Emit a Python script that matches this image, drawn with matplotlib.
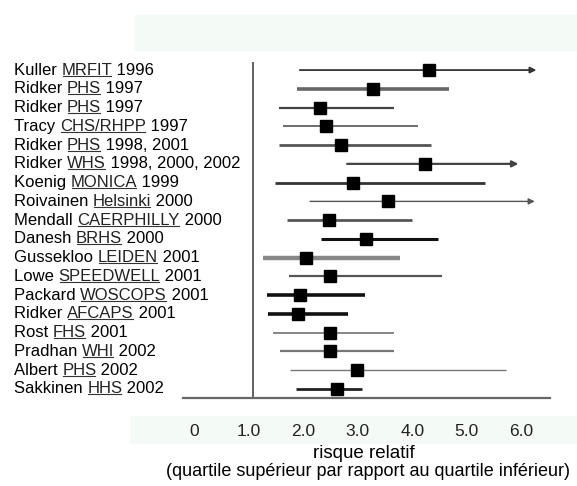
# Forest plot: relative risk (top vs bottom quartile) by study
import matplotlib.pyplot as plt
from matplotlib.transforms import ScaledTranslation

plt.rcParams['font.family'] = ['Liberation Sans', 'DejaVu Sans']

# study labels split in three parts: author, study name (underlined), year(s)
authors = ['Kuller', 'Ridker', 'Ridker', 'Tracy', 'Ridker', 'Ridker', 'Koenig',
           'Roivainen', 'Mendall', 'Danesh', 'Gussekloo', 'Lowe', 'Packard',
           'Ridker', 'Rost', 'Pradhan', 'Albert', 'Sakkinen']
studies = ['MRFIT', 'PHS', 'PHS', 'CHS/RHPP', 'PHS', 'WHS', 'MONICA',
           'Helsinki', 'CAERPHILLY', 'BRHS', 'LEIDEN', 'SPEEDWELL', 'WOSCOPS',
           'AFCAPS', 'FHS', 'WHI', 'PHS', 'HHS']
years = ['1996', '1997', '1997', '1997', '1998, 2001', '1998, 2000, 2002',
         '1999', '2000', '2000', '2000', '2001', '2001', '2001', '2001',
         '2001', '2002', '2002', '2002']

# relative risk and confidence interval
rr = [4.24, 3.20, 2.23, 2.34, 2.61, 4.16, 2.83, 3.49, 2.40, 3.07, 1.97, 2.42,
      1.86, 1.83, 2.42, 2.42, 2.91, 2.55]
ci_low = [1.86, 1.80, 1.48, 1.56, 1.48, 2.73, 1.40, 2.05, 1.62, 2.25, 1.18,
          1.66, 1.26, 1.28, 1.36, 1.50, 1.68, 1.79]
ci_high = [6.21, 4.60, 3.60, 4.03, 4.28, 5.88, 5.26, 6.18, 3.92, 4.41, 3.70,
           4.48, 3.06, 2.75, 3.59, 3.59, 5.65, 3.00]
# intervals running off the scale are drawn with an arrow head
open_ended = [True, False, False, False, False, True, False, True, False,
              False, False, False, False, False, False, False, False, False]

tick_values = [0, 1, 2, 3, 4, 5, 6]
tick_labels = ['0', '1.0', '2.0', '3.0', '4.0', '5.0', '6.0']

# line look for each interval, as in the scanned figure
line_widths = [1.3, 2.6, 1.6, 1.2, 2.0, 1.6, 2.0, 1.0, 2.0, 2.2, 3.2, 1.6,
               2.6, 2.6, 1.1, 1.6, 1.0, 2.0]
line_colours = ['#333333', '#666666', '#444444', '#555555', '#555555', '#444444',
                '#333333', '#555555', '#555555', '#111111', '#888888', '#555555',
                '#111111', '#111111', '#666666', '#777777', '#777777', '#222222']

fig = plt.figure(figsize=(5.77, 4.86), dpi=100)
W, H = 577.0, 486.0

# pale bands behind the title area and the tick labels
fig.patches.append(plt.Rectangle((135 / W, 1 - 50 / H), 442 / W, 35 / H,
                                 transform=fig.transFigure, color='#f4faf6',
                                 zorder=-5))
fig.patches.append(plt.Rectangle((130 / W, 1 - 443 / H), 447 / W, 27 / H,
                                 transform=fig.transFigure, color='#f4faf6',
                                 zorder=-5))

ax = fig.add_axes([183 / W, 88 / H, 367 / W, 336 / H])
ax.patch.set_alpha(0)

rows = range(len(rr))
for i in rows:
    if open_ended[i]:
        ax.annotate('', xy=(ci_high[i], i), xytext=(ci_low[i], i),
                    arrowprops=dict(arrowstyle='-|>', color=line_colours[i],
                                    lw=line_widths[i], mutation_scale=9,
                                    shrinkA=0, shrinkB=0))
    else:
        ax.plot([ci_low[i], ci_high[i]], [i, i], color=line_colours[i],
                lw=line_widths[i], solid_capstyle='butt')
ax.plot(rr, list(rows), 's', color='black', markersize=8, zorder=3)

ax.axvline(1, color='#555555', lw=1.3)

ax.set_xlim(-0.287, 6.46)
ax.set_ylim(17.48, -0.43)
for side in ['top', 'right', 'left']:
    ax.spines[side].set_visible(False)
ax.spines['bottom'].set_color('#666666')
ax.spines['bottom'].set_linewidth(1.6)
ax.set_yticks([])
ax.set_xticks(tick_values)
ax.set_xticklabels(tick_labels, fontsize=12.5, color='#222222')
ax.tick_params(axis='x', length=0, pad=19)
# the scanned tick labels sit a little to the left of their positions
shift = ScaledTranslation(-4 / 100, 0, fig.dpi_scale_trans)
for lab in ax.get_xticklabels():
    lab.set_transform(lab.get_transform() + shift)

# study labels: author, underlined study name, year(s)
fig.canvas.draw()
renderer = fig.canvas.get_renderer()
for i in rows:
    y = ax.transData.transform((0, i))[1] / H
    t1 = fig.text(14 / W, y, authors[i] + ' ', fontsize=12, va='center')
    t2 = ax.annotate(studies[i], xy=(1, 0.5), xycoords=t1, va='center',
                     ha='left', fontsize=12, color='#222222',
                     annotation_clip=False)
    t3 = ax.annotate(' ' + years[i], xy=(1, 0.5), xycoords=t2, va='center',
                     ha='left', fontsize=12, annotation_clip=False)
    bb = t2.get_window_extent(renderer)
    yl = (bb.y0 + 2) / H
    fig.add_artist(plt.Line2D([(bb.x0 + 1) / W, (bb.x1 - 1) / W], [yl, yl],
                              transform=fig.transFigure, color='#333333',
                              lw=0.8))

fig.text(364 / W, 1 - 453 / H, 'risque relatif', ha='center', va='center',
         fontsize=13.5)
fig.text(368 / W, 1 - 471 / H,
         '(quartile supérieur par rapport au quartile inférieur)',
         ha='center', va='center', fontsize=13)

fig.savefig('out.png', dpi=100)
